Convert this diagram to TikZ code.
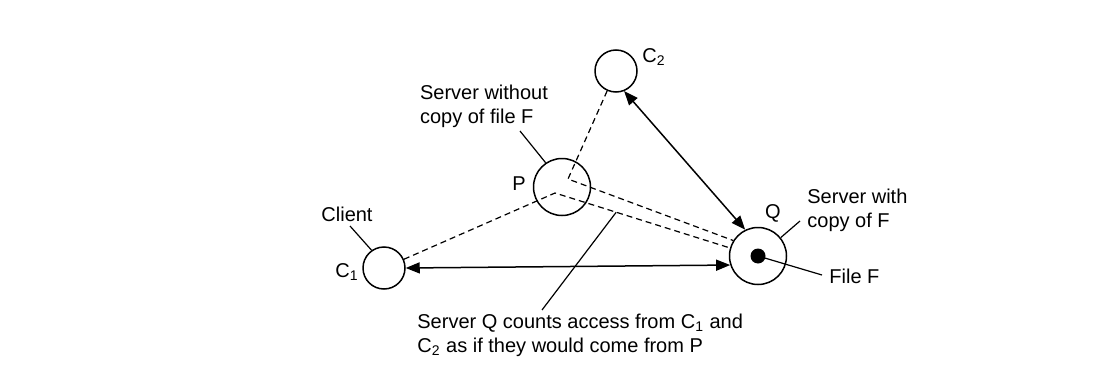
\documentclass[tikz,border=0pt]{standalone}
\usepackage{fontspec}
\setmainfont{Liberation Sans}
\usetikzlibrary{arrows.meta,calc}

\begin{document}
\begin{tikzpicture}[x=0.5pt, y=-0.5pt, font=\fontsize{10}{12}\selectfont,
  >={Triangle[length=7pt,width=5.5pt]},
  site/.style={draw, circle, line width=0.75pt, inner sep=0pt},
  client/.style={site, minimum size=21pt},
  server/.style={site, minimum size=28.5pt},
  lbl/.style={align=left, inner sep=0pt},
  link/.style={dash pattern=on 3pt off 2pt, line width=0.6pt},
  acc/.style={<->, line width=0.75pt},
  lead/.style={line width=0.6pt}]
  \useasboundingbox (0,0) rectangle (1114,391);
  % sites
  \node[client] (c1) at (384,268) {};
  \node[client] (c2) at (616,71)  {};
  \node[server] (p)  at (562,187) {};
  \node[server] (q)  at (758,256) {};
  \node[circle, fill, inner sep=0pt, minimum size=7.5pt] (f) at (q.center) {};
  % short labels
  \node (c1l) at (347,272) {C\textsubscript{1}};
  \node (c2l) at (654,57)  {C\textsubscript{2}};
  \node (pl)  at (519,184) {P};
  \node (ql)  at (773,213) {Q};
  % text labels
  \node[lbl] (pt) at (484,106) {Server without\\copy of file F};
  \node[lbl] (ct) at (347,214) {Client};
  \node[lbl, anchor=west] (qt) at (807,210) {Server with\\copy of F};
  \node[lbl, anchor=west] (ft) at (829,276) {File F};
  \node[lbl, anchor=west] (nt) at (417,335) {Server Q counts access from C\textsubscript{1} and\\C\textsubscript{2} as if they would come from P};
  % redirected access via P
  \coordinate (pa) at (568,179);
  \coordinate (pb) at (555,193);
  \draw[link] (c2) -- (pa) -- (q.148);
  \draw[link] (c1) -- (pb) -- (q.164);
  % real access
  \draw[acc] (c1.east) -- (q.198);
  \draw[acc] (c2.-68) -- (q.116);
  % leaders
  \coordinate (lp) at (520,131);
  \coordinate (lc) at (350,226);
  \coordinate (lq) at (800,221);
  \coordinate (lf) at (822,275);
  \coordinate (ln) at (542,310);
  \draw[lead] (lp) -- (p.124);
  \draw[lead] (lc) -- (c1.125);
  \draw[lead] (q.39) -- (lq);
  \draw[lead] (f.center) -- (lf);
  \draw[lead] (ln) -- ($(pb)!0.35!(q.164)$);
\end{tikzpicture}
\end{document}
